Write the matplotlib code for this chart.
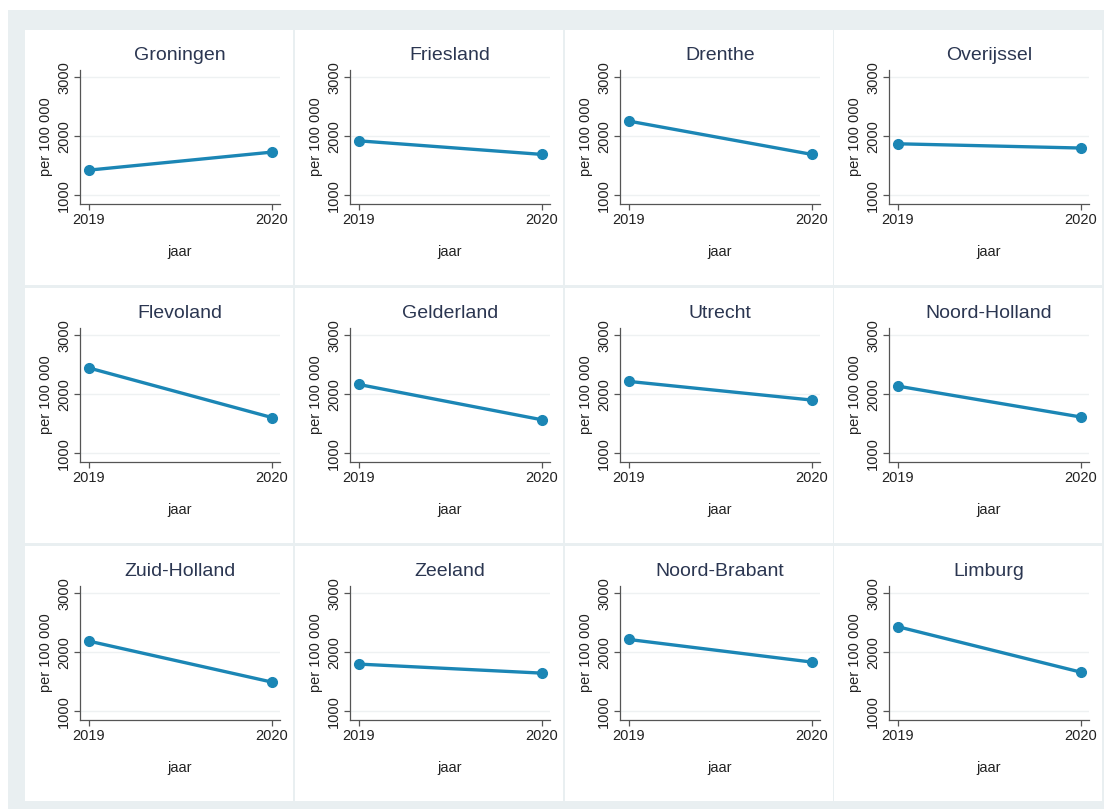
import matplotlib.pyplot as plt
from matplotlib.patches import Rectangle

# Sterfte per 100 000 inwoners per provincie
provincies = [
    "Groningen", "Friesland", "Drenthe", "Overijssel",
    "Flevoland", "Gelderland", "Utrecht", "Noord-Holland",
    "Zuid-Holland", "Zeeland", "Noord-Brabant", "Limburg",
]
jaren = [2019, 2020]
waarde_2019 = [1424, 1920, 2254, 1870, 2443, 2163, 2215, 2135, 2186, 1797, 2214, 2430]
waarde_2020 = [1729, 1690, 1690, 1798, 1603, 1565, 1899, 1612, 1492, 1644, 1831, 1660]
y_ticks = [1000, 2000, 3000]

W, H = 1104, 809
LIJN = "#1b86b5"
TEKST = "#2b3651"
AS = "#555555"

plt.rcParams["font.family"] = ["Liberation Sans", "DejaVu Sans"]

fig = plt.figure(figsize=(W / 100, H / 100), dpi=100)
fig.patch.set_facecolor("white")


def box(x, y, w, h):
    # pixelcoordinaten (linksboven) naar figuurfracties
    return [x / W, 1 - (y + h) / H, w / W, h / H]


# grijze achtergrond
bg = box(8, 10, W - 8, H - 10)
fig.patches.append(Rectangle(bg[:2], bg[2], bg[3], transform=fig.transFigure,
                             facecolor="#e9eff1", edgecolor="none", zorder=0))

col_x = [25, 295, 565, 834]
row_y = [30, 288, 546]
pw, ph = 268, 255

for i, naam in enumerate(provincies):
    r, c = divmod(i, 4)
    px, py = col_x[c], row_y[r]

    p = box(px, py, pw, ph)
    fig.patches.append(Rectangle(p[:2], p[2], p[3], transform=fig.transFigure,
                                 facecolor="white", edgecolor="none", zorder=1))

    ax = fig.add_axes(box(px + 55, py + 40, 200, 134))
    ax.set_zorder(2)
    ax.plot(jaren, [waarde_2019[i], waarde_2020[i]], color=LIJN, lw=2.4,
            marker="o", ms=7, solid_capstyle="round", zorder=3)

    ax.set_xlim(2019 - 0.049, 2020.044)
    ax.set_ylim(850, 3120)
    ax.set_xticks(jaren)
    ax.set_xticklabels([str(j) for j in jaren])
    ax.set_yticks(y_ticks)
    ax.set_yticklabels([str(t) for t in y_ticks], rotation=90, va="center")
    ax.grid(axis="y", color="#eef1f2", lw=1, zorder=0)

    for s in ["top", "right"]:
        ax.spines[s].set_visible(False)
    for s in ["left", "bottom"]:
        ax.spines[s].set_color(AS)
        ax.spines[s].set_linewidth(0.9)
    ax.tick_params(colors=AS, labelcolor="#222222", labelsize=10.5,
                   length=4, width=0.9, pad=2.5)

    ax.set_title(naam, fontsize=14, color=TEKST, pad=7)
    ax.set_xlabel("jaar", fontsize=10.5, color="#222222", labelpad=13)
    ax.set_ylabel("per 100 000", fontsize=10.5, color="#222222", labelpad=3)

fig.savefig("out.png", dpi=100)
